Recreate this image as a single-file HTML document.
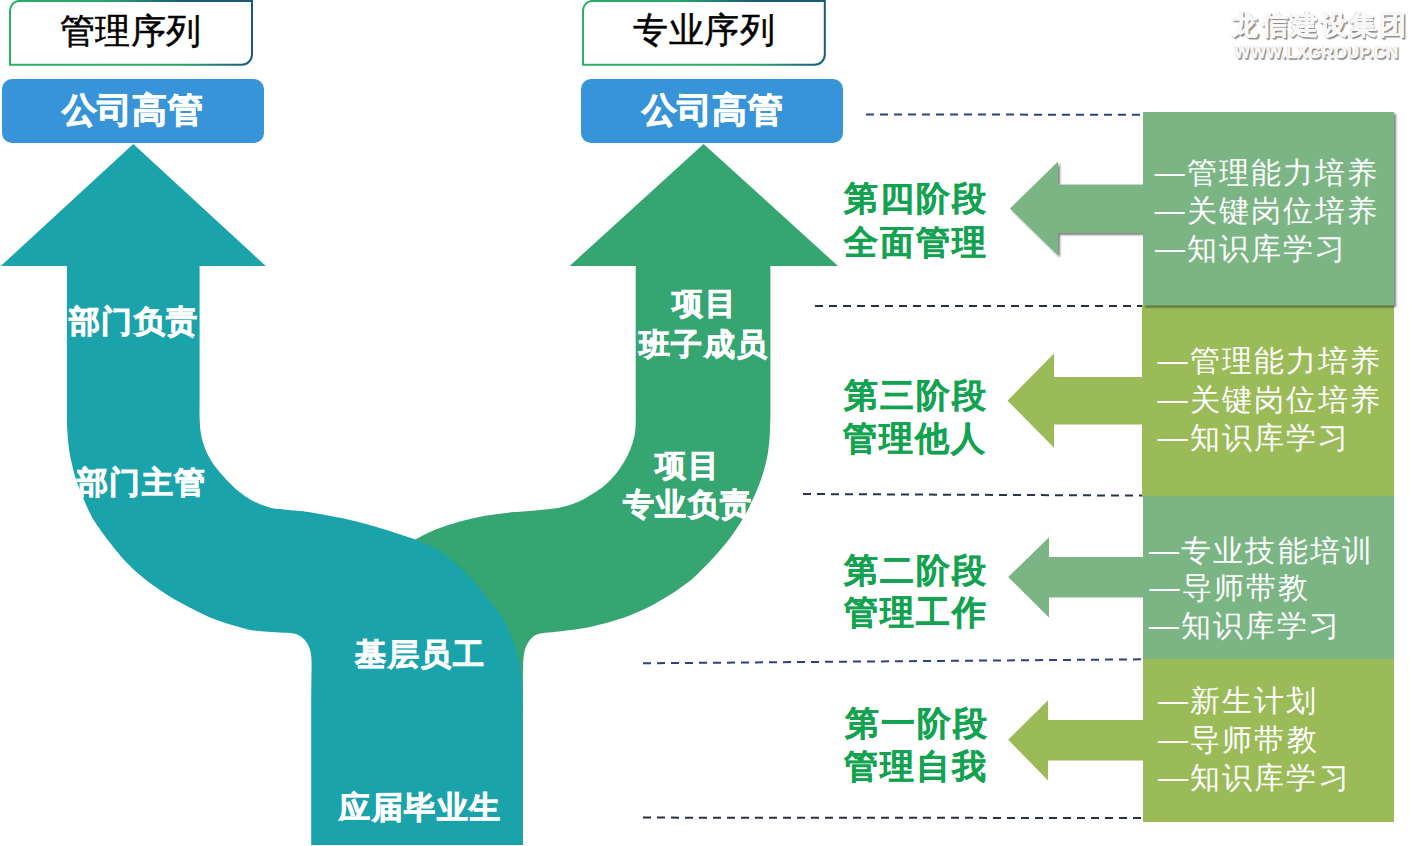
<!DOCTYPE html>
<html><head><meta charset="utf-8"><style>
*{margin:0;padding:0;box-sizing:border-box}
html,body{width:1410px;height:846px;overflow:hidden;background:#fff;font-family:"Liberation Sans",sans-serif}
.a{position:absolute;white-space:nowrap;line-height:1}
svg{position:absolute;left:0;top:0}
.tb{color:#000;-webkit-text-stroke:0.5px #000}
.bb{color:#fff;font-weight:bold;-webkit-text-stroke:0.8px #fff}
.st{color:#13a350;font-weight:bold;-webkit-text-stroke:0.3px #13a350}
.wt{color:#fff;font-weight:bold;-webkit-text-stroke:0.8px #fff}
.bx{color:#fff}
.wm{color:#f8f8f8;font-weight:bold;-webkit-text-stroke:0.5px #f8f8f8;text-shadow:-0.5px -0.5px 0 #c8c8c8,1px 1px 0 #8a8a8a,1.5px 1.5px 1px #9a9a9a}
</style></head><body>
<svg width="1410" height="846" viewBox="0 0 1410 846">
<defs>
<linearGradient id="bg" gradientUnits="userSpaceOnUse" x1="0" y1="0" x2="112" y2="-128.8"><stop offset="0" stop-color="#2bb068"/><stop offset="0.4" stop-color="#2aa66a"/><stop offset="0.55" stop-color="#1f7f76"/><stop offset="0.68" stop-color="#1b5c78"/><stop offset="1" stop-color="#1b5878"/></linearGradient>
<linearGradient id="bg2" gradientUnits="userSpaceOnUse" x1="573" y1="0" x2="685" y2="-128.8"><stop offset="0" stop-color="#2bb068"/><stop offset="0.4" stop-color="#2aa66a"/><stop offset="0.55" stop-color="#1f7f76"/><stop offset="0.68" stop-color="#1b5c78"/><stop offset="1" stop-color="#1b5878"/></linearGradient>
<filter id="sh" x="-10%" y="-10%" width="130%" height="130%"><feGaussianBlur in="SourceAlpha" stdDeviation="1.2"/><feOffset dx="2" dy="2"/><feComponentTransfer><feFuncA type="linear" slope="0.5"/></feComponentTransfer><feMerge><feMergeNode/><feMergeNode in="SourceGraphic"/></feMerge></filter>
</defs>
<path d="M19.5 0.9 H252 V54.6 A10.2 10.2 0 0 1 241.8 64.8 H10 V10.4 A9.5 9.5 0 0 1 19.5 0.9 Z" fill="#fff" stroke="url(#bg)" stroke-width="2"/>
<path d="M592.5 0.9 H824.8 V54.6 A10.2 10.2 0 0 1 814.6 64.8 H583 V10.4 A9.5 9.5 0 0 1 592.5 0.9 Z" fill="#fff" stroke="url(#bg2)" stroke-width="2"/>
<rect x="2" y="79" width="262" height="64" rx="10" fill="#3794d9"/>
<rect x="581" y="79" width="262" height="64" rx="10" fill="#3794d9"/>
<path d="M703.6 144.0 L838 266 L770.4 266 L770.4 380 C770.4 383.3 770.4 394.2 770.4 400.0 C770.4 405.8 770.4 410.8 770.4 415.0 C770.4 419.2 770.3 421.4 770.2 425.0 C770.1 428.6 769.9 432.4 769.6 436.7 C769.3 441.0 768.9 446.2 768.2 450.9 C767.5 455.6 766.6 460.4 765.4 465.1 C764.2 469.8 762.8 474.6 761.1 479.3 C759.5 484.0 757.0 490.0 755.5 493.5 C754.0 497.0 753.8 497.3 752.3 500.5 C750.8 503.7 748.5 508.7 746.3 512.8 C744.1 516.9 741.7 520.8 739.0 525.0 C736.3 529.2 733.4 533.5 730.2 537.8 C727.0 542.1 723.4 546.5 719.6 550.8 C715.9 555.1 711.4 559.9 707.7 563.8 C704.0 567.6 700.8 570.9 697.6 573.9 C694.4 576.9 692.2 579.0 688.7 581.8 C685.2 584.5 680.8 587.7 676.8 590.4 C672.8 593.1 668.9 595.4 665.0 597.8 C661.1 600.2 657.1 602.6 653.2 604.7 C649.3 606.8 645.3 608.7 641.4 610.5 C637.5 612.3 633.5 613.9 629.6 615.4 C625.7 616.9 621.7 618.2 617.7 619.5 C613.8 620.8 610.4 621.9 605.9 623.1 C601.4 624.3 596.7 625.6 591.0 626.8 C585.3 628.0 578.0 629.2 571.5 630.1 C565.0 631.0 557.2 631.6 552.0 632.2 C546.8 632.8 543.3 632.7 540.0 633.6 C536.7 634.5 534.4 635.6 532.2 637.4 C530.0 639.2 528.4 641.8 527.0 644.6 C525.6 647.4 524.7 650.1 524.0 654.0 C523.3 657.9 523.2 662.0 523.0 668.0 C522.8 674.0 523.0 684.7 523.0 690.0 C523.0 695.3 523.0 698.3 523.0 700.0 L523 845 L400 845 L400 560 L405 546 C406.9 544.9 412.4 541.3 416.3 539.1 C420.2 536.9 424.0 534.7 428.4 532.7 C432.8 530.7 436.7 529.0 442.6 527.0 C448.5 525.0 456.7 522.5 463.8 520.6 C470.9 518.7 478.0 517.0 485.1 515.7 C492.2 514.4 500.6 513.5 506.4 512.9 C512.2 512.2 515.6 512.1 520.0 511.8 C524.4 511.5 527.6 511.3 533.0 510.8 C538.4 510.3 547.1 509.6 552.5 508.8 C557.9 508.0 561.2 507.4 565.5 506.2 C569.8 505.0 574.2 503.6 578.5 501.7 C582.8 499.8 587.2 497.2 591.5 494.5 C595.8 491.8 600.6 488.6 604.5 485.4 C608.4 482.1 611.6 478.9 614.9 475.0 C618.1 471.1 621.4 466.3 624.0 462.0 C626.6 457.7 628.8 453.3 630.5 449.0 C632.2 444.7 633.5 440.3 634.4 436.0 C635.3 431.7 635.5 429.0 635.7 423.0 C635.9 417.0 635.7 407.2 635.7 400.0 C635.7 392.8 635.7 383.3 635.7 380.0 L635.7 266 L569.6 266 Z" fill="#35a571"/>
<path d="M133.3 144.0 L265.8 266 L199.6 266 L199.6 380 C199.6 383.3 199.6 393.9 199.6 400.0 C199.6 406.1 199.4 411.0 199.6 416.5 C199.8 422.0 199.9 427.9 200.8 433.1 C201.7 438.4 203.1 443.3 204.9 448.0 C206.7 452.7 208.5 456.5 211.5 461.2 C214.5 465.9 219.0 471.4 223.1 476.1 C227.2 480.8 231.3 485.2 236.3 489.4 C241.3 493.5 247.4 498.0 252.9 501.0 C258.4 504.0 264.9 506.0 269.4 507.4 C273.9 508.8 276.6 508.6 280.0 509.1 C283.4 509.6 286.4 509.9 290.0 510.2 C293.6 510.5 295.9 510.4 301.3 511.1 C306.7 511.8 315.5 513.2 322.6 514.5 C329.7 515.8 336.7 517.1 343.8 518.6 C350.9 520.1 358.0 521.9 365.1 523.8 C372.2 525.7 379.3 527.9 386.4 530.1 C393.5 532.3 402.7 535.4 407.7 537.0 C412.7 538.6 412.9 538.7 416.3 540.0 C419.8 541.3 424.0 542.9 428.4 545.0 C432.8 547.1 437.9 549.8 442.6 552.9 C447.3 556.0 452.0 559.7 456.7 563.9 C461.4 568.1 466.2 572.9 470.9 578.1 C475.6 583.3 480.4 589.2 485.1 595.1 C489.8 601.0 495.5 607.9 499.3 613.5 C503.1 619.1 505.3 623.8 507.8 629.0 C510.3 634.2 512.6 639.8 514.3 644.6 C516.0 649.4 517.1 652.8 518.2 657.6 C519.3 662.4 520.2 667.8 520.8 673.2 C521.4 678.6 521.6 685.5 521.8 690.0 C522.0 694.5 522.0 698.3 522.0 700.0 L522.4 845 L311.2 845 L311.2 700 C311.2 696.7 311.3 685.9 311.4 680.0 C311.5 674.1 311.6 668.5 311.6 664.5 C311.6 660.5 311.5 658.7 311.2 656.0 C310.9 653.3 310.4 650.8 309.6 648.5 C308.8 646.2 307.8 644.1 306.4 642.1 C305.0 640.1 303.2 638.2 301.1 636.8 C299.0 635.4 297.2 634.3 293.6 633.6 C290.1 632.9 284.8 633.0 279.8 632.6 C274.8 632.2 269.1 632.0 263.8 631.5 C258.5 631.0 253.2 630.5 247.9 629.4 C242.6 628.3 237.2 626.7 231.9 625.1 C226.6 623.5 221.3 621.8 216.0 619.8 C210.7 617.8 206.1 615.8 200.0 612.8 C193.9 609.8 185.1 605.3 179.3 602.1 C173.5 598.9 169.8 596.7 165.1 593.6 C160.4 590.5 155.6 587.2 150.9 583.7 C146.2 580.2 141.4 576.5 136.7 572.3 C132.0 568.0 127.1 563.2 122.6 558.2 C118.1 553.2 112.9 546.6 109.8 542.6 C106.7 538.6 106.1 537.8 103.7 534.5 C101.3 531.2 97.9 526.6 95.4 522.7 C92.9 518.8 90.9 514.8 88.9 510.9 C86.9 507.0 85.3 503.1 83.6 499.1 C81.9 495.2 80.4 491.1 78.9 487.2 C77.4 483.2 76.0 479.3 74.8 475.4 C73.6 471.5 72.7 467.5 71.8 463.6 C70.9 459.7 70.0 455.7 69.4 451.8 C68.8 447.9 68.4 444.1 68.0 440.0 C67.6 435.9 67.3 431.3 67.1 427.0 C66.9 422.7 66.9 418.5 66.9 414.0 C66.9 409.5 66.9 405.7 66.9 400.0 C66.9 394.3 66.9 383.3 66.9 380.0 L66.9 266 L0.8 266 Z" fill="#1ba3ac"/>
<g stroke-width="2" stroke-dasharray="8 6">
<line x1="866" y1="114.4" x2="1143" y2="114.8" stroke="#2d4283"/>
<line x1="815" y1="306" x2="1143" y2="306" stroke="#262f40"/>
<line x1="803" y1="494" x2="1143" y2="495.6" stroke="#29344a"/>
<line x1="643" y1="663.3" x2="1143" y2="659.3" stroke="#2d4080"/>
<line x1="643" y1="817.6" x2="1143" y2="818" stroke="#283142"/>
</g>
<path d="M1010 208.5 L1058 161.5 L1058 184.5 L1145 184.5 L1145 233 L1058 233 L1058 255.5 Z" fill="#7bb584" filter="url(#sh)"/>
<path d="M1007.5 400.7 L1054 353.5 L1054 377 L1145 377 L1145 424.6 L1054 424.6 L1054 447.8 Z" fill="#9bbb59"/>
<path d="M1008.2 577.1 L1049 537.3 L1049 557.1 L1145 557.1 L1145 597.6 L1049 597.6 L1049 617.5 Z" fill="#7bb584"/>
<path d="M1008.2 739.8 L1048 700.3 L1048 720.1 L1145 720.1 L1145 760.5 L1048 760.5 L1048 780.4 Z" fill="#9bbb59"/>
<rect x="1142" y="305" width="252" height="191" fill="#9bbb59"/>
<rect x="1143" y="496" width="251" height="163" fill="#7bb584"/>
<rect x="1143" y="659" width="251" height="163" fill="#9bbb59"/>
<rect x="1143" y="112" width="251" height="193.3" fill="#7bb584" filter="url(#sh)"/>
</svg>
<div class="a tb" style="left:59.96px;top:12.64px;font-size:35.30px;letter-spacing:0.50px">管理序列</div>
<div class="a tb" style="left:633.17px;top:12.47px;font-size:35.30px;letter-spacing:0.50px">专业序列</div>
<div class="a bb" style="left:61.59px;top:92.57px;font-size:34.70px;letter-spacing:0.35px">公司高管</div>
<div class="a bb" style="left:641.59px;top:92.57px;font-size:34.70px;letter-spacing:0.35px">公司高管</div>
<div class="a wt" style="left:68.89px;top:305.96px;font-size:31.20px;letter-spacing:1.50px">部门负责</div>
<div class="a wt" style="left:76.80px;top:467.18px;font-size:31.20px;letter-spacing:1.50px">部门主管</div>
<div class="a wt" style="left:672.49px;top:288.24px;font-size:31.20px;letter-spacing:1.50px">项目</div>
<div class="a wt" style="left:638.80px;top:328.68px;font-size:31.20px;letter-spacing:1.50px">班子成员</div>
<div class="a wt" style="left:655.49px;top:449.74px;font-size:31.20px;letter-spacing:1.50px">项目</div>
<div class="a wt" style="left:622.80px;top:488.85px;font-size:31.20px;letter-spacing:1.50px">专业负责</div>
<div class="a wt" style="left:355.01px;top:639.08px;font-size:31.20px;letter-spacing:1.50px">基层员工</div>
<div class="a wt" style="left:339.00px;top:791.96px;font-size:31.20px;letter-spacing:1.50px">应届毕业生</div>
<div class="a st" style="left:844.31px;top:182.00px;font-size:33.60px;letter-spacing:2.00px">第四阶段</div>
<div class="a st" style="left:844.00px;top:225.79px;font-size:33.60px;letter-spacing:2.00px">全面管理</div>
<div class="a st" style="left:844.29px;top:379.40px;font-size:33.60px;letter-spacing:2.00px">第三阶段</div>
<div class="a st" style="left:842.71px;top:421.78px;font-size:33.60px;letter-spacing:2.00px">管理他人</div>
<div class="a st" style="left:844.31px;top:553.80px;font-size:33.60px;letter-spacing:2.00px">第二阶段</div>
<div class="a st" style="left:844.42px;top:596.17px;font-size:33.60px;letter-spacing:2.00px">管理工作</div>
<div class="a st" style="left:844.50px;top:706.70px;font-size:33.60px;letter-spacing:2.00px">第一阶段</div>
<div class="a st" style="left:844.00px;top:750.20px;font-size:33.60px;letter-spacing:2.00px">管理自我</div>
<div class="a bx" style="left:1154.59px;top:157.56px;font-size:30.10px;letter-spacing:2.10px">—管理能力培养</div>
<div class="a bx" style="left:1154.60px;top:196.00px;font-size:30.10px;letter-spacing:2.10px">—关键岗位培养</div>
<div class="a bx" style="left:1154.89px;top:233.87px;font-size:30.10px;letter-spacing:2.10px">—知识库学习</div>
<div class="a bx" style="left:1157.60px;top:345.80px;font-size:30.10px;letter-spacing:2.10px">—管理能力培养</div>
<div class="a bx" style="left:1157.60px;top:384.80px;font-size:30.10px;letter-spacing:2.10px">—关键岗位培养</div>
<div class="a bx" style="left:1157.60px;top:422.50px;font-size:30.10px;letter-spacing:2.10px">—知识库学习</div>
<div class="a bx" style="left:1149.09px;top:535.56px;font-size:30.10px;letter-spacing:2.10px">—专业技能培训</div>
<div class="a bx" style="left:1149.50px;top:572.99px;font-size:30.10px;letter-spacing:2.10px">—导师带教</div>
<div class="a bx" style="left:1148.70px;top:611.00px;font-size:30.10px;letter-spacing:2.10px">—知识库学习</div>
<div class="a bx" style="left:1158.00px;top:686.20px;font-size:30.10px;letter-spacing:2.10px">—新生计划</div>
<div class="a bx" style="left:1158.02px;top:724.81px;font-size:30.10px;letter-spacing:2.10px">—导师带教</div>
<div class="a bx" style="left:1158.00px;top:763.20px;font-size:30.10px;letter-spacing:2.10px">—知识库学习</div>
<div class="a wm" style="left:1231.41px;top:11.99px;font-size:26.55px;letter-spacing:2.61px">龙信建设集团</div>
<div class="a wm" style="left:1234.30px;top:44.69px;font-size:16.54px;letter-spacing:0.40px">WWW.LXGROUP.CN</div>
</body></html>
